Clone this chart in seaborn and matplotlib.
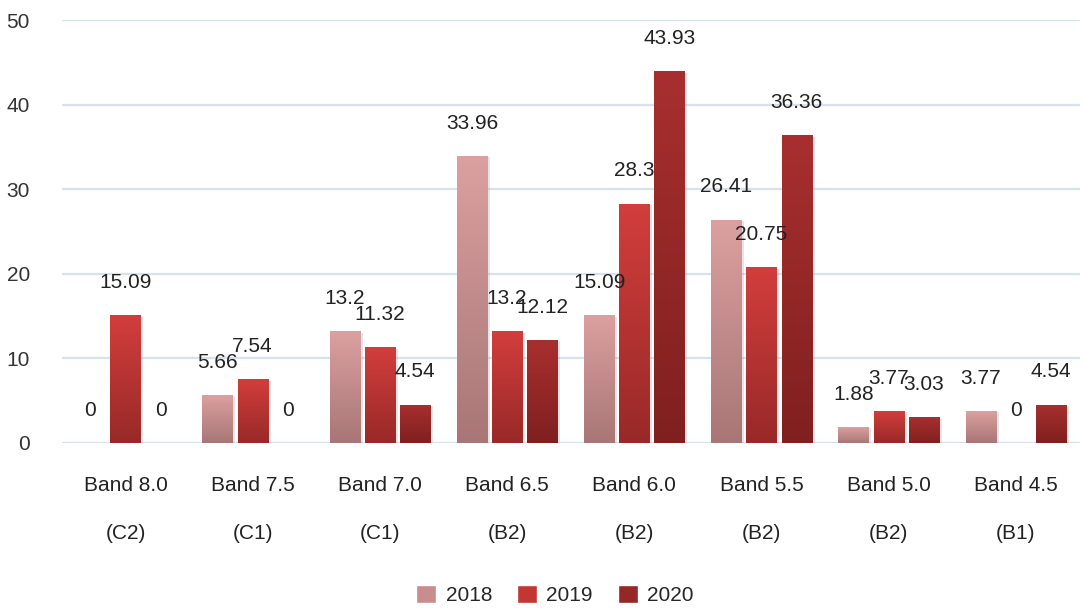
import matplotlib
matplotlib.use("Agg")
import matplotlib.pyplot as plt
import matplotlib.patheffects as pe
from matplotlib.colors import LinearSegmentedColormap
from matplotlib.patches import Patch
import numpy as np
import pandas as pd
import seaborn as sns

bands = ["Band 8.0", "Band 7.5", "Band 7.0", "Band 6.5", "Band 6.0", "Band 5.5", "Band 5.0", "Band 4.5"]
levels = ["(C2)", "(C1)", "(C1)", "(B2)", "(B2)", "(B2)", "(B2)", "(B1)"]
years = ["2018", "2019", "2020"]
y2018 = [0, 5.66, 13.2, 33.96, 15.09, 26.41, 1.88, 3.77]
y2019 = [15.09, 7.54, 11.32, 13.2, 28.3, 20.75, 3.77, 0]
y2020 = [0, 0, 4.54, 12.12, 43.93, 36.36, 3.03, 4.54]

# gradient top / bottom colours per year
grad = {
    "2018": ("#dca0a0", "#a87676"),
    "2019": ("#d23e3c", "#982928"),
    "2020": ("#a82f2f", "#7f201f"),
}

df = pd.DataFrame({
    "band": bands * 3,
    "year": [y for y in years for _ in bands],
    "value": y2018 + y2019 + y2020,
})

sns.set_style("white")
plt.rcParams["font.family"] = ["Liberation Sans", "DejaVu Sans"]

fig = plt.figure(figsize=(10.85, 6.08), dpi=100)
ax = fig.add_axes([0.057, 0.2714, 0.938, 0.6957])

palette = {y: grad[y][0] for y in years}
sns.barplot(data=df, x="band", y="value", hue="year", hue_order=years,
            palette=palette, width=0.83, gap=0.14, legend=False, ax=ax,
            saturation=1, linewidth=0)

ax.set_ylim(0, 50)
xlim = ax.get_xlim()

# gradient fill for each bar
g = np.linspace(0, 1, 256).reshape(-1, 1)
for year, cont in zip(years, ax.containers):
    cmap = LinearSegmentedColormap.from_list(year, [grad[year][1], grad[year][0]])
    for bar, val in zip(cont.patches, df.loc[df["year"] == year, "value"]):
        x, w, h = bar.get_x(), bar.get_width(), bar.get_height()
        bar.set_path_effects([pe.SimplePatchShadow(offset=(2, -1), shadow_rgbFace="#999999", alpha=0.25)])
        if h > 0:
            im = ax.imshow(g, extent=[x, x + w, 0, h], origin="lower", aspect="auto",
                           cmap=cmap, zorder=2.5)
            im.set_clip_path(bar)
        ax.annotate(f"{val:g}", (x + w / 2, h), xytext=(0, 23.5), textcoords="offset points",
                    ha="center", va="center", fontsize=15, color="#222222", zorder=4)

ax.set_xlim(xlim)
ax.set_ylim(0, 50)
ax.set_yticks([0, 10, 20, 30, 40, 50])
ax.grid(axis="y", color="#d6e2f2", linewidth=1.6, zorder=0)
ax.set_axisbelow(True)
for s in ax.spines.values():
    s.set_visible(False)

ax.set_xticks(range(len(bands)))
ax.set_xticklabels([f"{b}\n{l}" for b, l in zip(bands, levels)], linespacing=2.9)
ax.tick_params(axis="x", length=0, pad=24, labelsize=15, labelcolor="#222222")
ax.tick_params(axis="y", length=0, pad=23, labelsize=15, labelcolor="#333333")
ax.set_xlabel("")
ax.set_ylabel("")

handles = [Patch(facecolor=c, label=y) for y, c in zip(years, ["#c98d8d", "#c23633", "#962726"])]
fig.legend(handles=handles, loc="lower center", bbox_to_anchor=(0.5115, 0.0), ncol=3,
           frameon=False, fontsize=15, handlelength=0.96, handleheight=0.96,
           handletextpad=0.45, columnspacing=1.2, borderpad=0.15, borderaxespad=0)

fig.savefig("out.png", dpi=100)
